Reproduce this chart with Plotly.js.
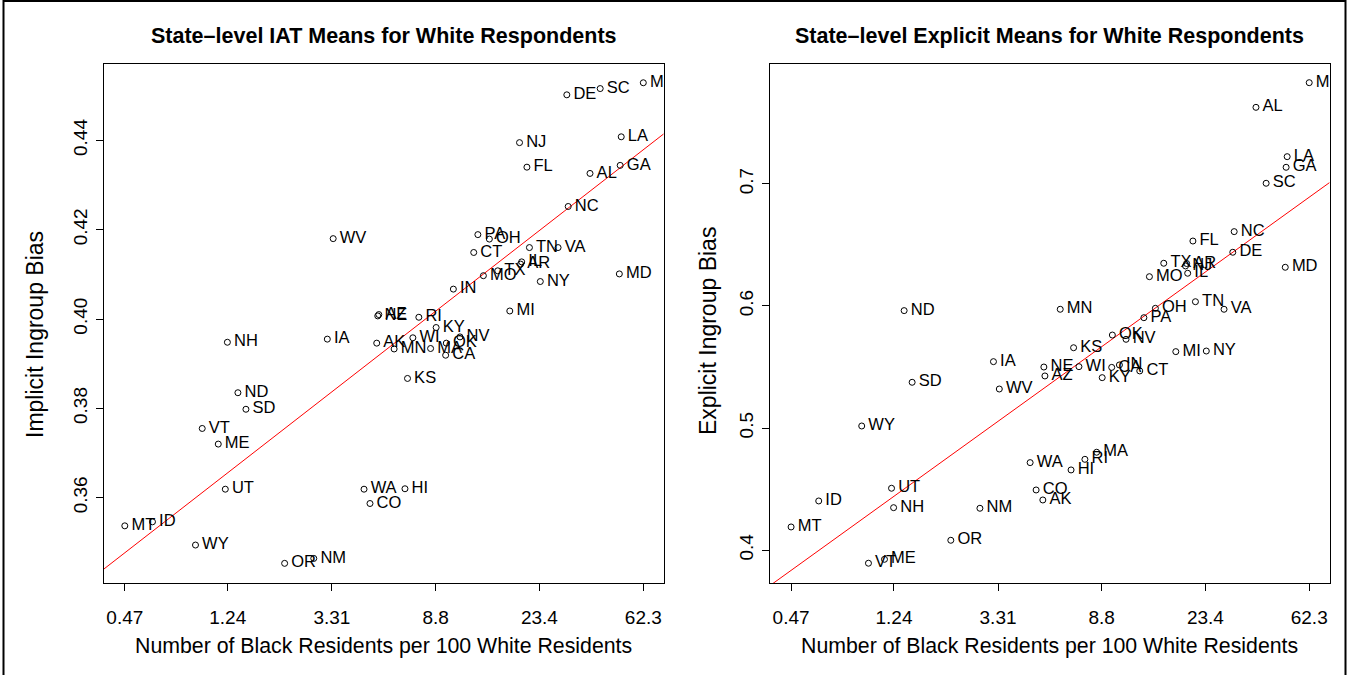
<!DOCTYPE html>
<html>
<head>
<meta charset="utf-8">
<script src="https://cdn.plot.ly/plotly-3.0.1.min.js"></script>
<style>
  html, body { margin: 0; padding: 0; background: #ffffff; }
  #chart { width: 1350px; height: 675px; }
</style>
</head>
<body>
<div id="chart"></div>
<script>
// ---- Data ----
const states = ['AL','AK','AZ','AR','CA','CO','CT','DE','FL','GA','HI','ID','IL','IN','IA','KS','KY','LA','ME','MD','MA','MI','MN','MS','MO','MT','NE','NV','NH','NJ','NM','NY','NC','ND','OH','OK','OR','PA','RI','SC','SD','TN','TX','UT','VT','VA','WA','WV','WI','WY'];

// Number of Black residents per 100 White residents
const blackPer100White = [37.7,5.05,5.15,19.6,9.67,4.74,12.6,30.3,20.8,50.1,6.59,0.61,19.8,10.4,3.17,6.75,8.84,50.6,1.134,49.7,8.39,17.7,5.95,62.3,13.8,0.47,5.10,11.07,1.236,19.4,2.79,23.6,30.7,1.365,14.6,9.73,2.12,13.1,7.51,41.5,1.472,21.3,15.8,1.212,0.975,27.9,4.48,3.35,7.10,0.915];

// State-level IAT means (implicit ingroup bias)
const iatMeans = [0.4326,0.3946,0.4010,0.4123,0.3919,0.3587,0.4149,0.4502,0.4340,0.4344,0.3620,0.3546,0.4128,0.4067,0.3955,0.3867,0.3981,0.4408,0.3720,0.4101,0.3934,0.4018,0.3933,0.4529,0.4097,0.3537,0.4007,0.3960,0.3948,0.4395,0.3464,0.4084,0.4252,0.3835,0.4179,0.3946,0.3453,0.4189,0.4004,0.4516,0.3798,0.4160,0.4108,0.3619,0.3755,0.4160,0.3619,0.4180,0.3958,0.3494];

// State-level explicit means (explicit ingroup bias)
const explicitMeans = [0.7627,0.4411,0.5427,0.6348,0.5497,0.4493,0.5468,0.6440,0.6532,0.7136,0.4657,0.4403,0.6268,0.5517,0.5544,0.5658,0.5413,0.7223,0.3925,0.6317,0.4802,0.5626,0.5973,0.7829,0.6240,0.4190,0.5500,0.5727,0.4348,0.6328,0.4343,0.5631,0.6609,0.5962,0.5981,0.5762,0.4081,0.5904,0.4744,0.7005,0.5375,0.6035,0.6350,0.4507,0.3893,0.5973,0.4717,0.5320,0.5503,0.5017];

// Axis tick labels
const xTickVals = [0.47, 1.24, 3.31, 8.8, 23.4, 62.3];
const xTickText = ['0.47', '1.24', '3.31', '8.8', '23.4', '62.3'];
const yTickValsIAT = [0.36, 0.38, 0.40, 0.42, 0.44];
const yTickTextIAT = ['0.36', '0.38', '0.40', '0.42', '0.44'];
const yTickValsExp = [0.4, 0.5, 0.6, 0.7];
const yTickTextExp = ['0.4', '0.5', '0.6', '0.7'];

const titleIAT = 'State\u2013level IAT Means for White Respondents';
const titleExp = 'State\u2013level Explicit Means for White Respondents';
const xTitle = 'Number of Black Residents per 100 White Residents';
const yTitleIAT = 'Implicit Ingroup Bias';
const yTitleExp = 'Explicit Ingroup Bias';

// ---- Layout geometry ----
const W = 1350, H = 675;
const FONT = 'Liberation Sans, Arial, Helvetica, sans-serif';
const xRangeLog = [-0.4143, 1.878];
const yRangeIAT = [0.3409, 0.4571];
const yRangeExp = [0.3731, 0.7982];

// Least-squares fit of y on log(x)
function lsFit(xs, ys) {
  const lx = xs.map(v => Math.log10(v));
  const n = lx.length;
  const mx = lx.reduce((a, b) => a + b, 0) / n;
  const my = ys.reduce((a, b) => a + b, 0) / n;
  let sxy = 0, sxx = 0;
  for (let i = 0; i < n; i++) {
    sxy += (lx[i] - mx) * (ys[i] - my);
    sxx += (lx[i] - mx) * (lx[i] - mx);
  }
  const b = sxy / sxx;
  return { a: my - b * mx, b: b };
}
function fitLine(xs, ys, xa, ya) {
  const f = lsFit(xs, ys);
  const ex = xRangeLog.map(v => Math.pow(10, v));
  return {
    x: ex, y: xRangeLog.map(v => f.a + f.b * v),
    type: 'scatter', mode: 'lines', xaxis: xa, yaxis: ya,
    line: { color: '#ff0000', width: 1 }, hoverinfo: 'skip', showlegend: false
  };
}
// labels: an invisible wider marker gives the label its offset from the point
function labelTrace(ys, xa, ya) {
  return {
    x: blackPer100White, y: ys, text: states,
    type: 'scatter', mode: 'markers+text', xaxis: xa, yaxis: ya,
    textposition: 'middle right',
    textfont: { family: FONT, size: 16.5, color: '#000000' },
    marker: { size: 9, color: 'rgba(0,0,0,0)', line: { width: 0 } },
    cliponaxis: true, showlegend: false, hoverinfo: 'skip'
  };
}
function pointTrace(ys, xa, ya) {
  return {
    x: blackPer100White, y: ys,
    type: 'scatter', mode: 'markers', xaxis: xa, yaxis: ya,
    marker: { symbol: 'circle-open', size: 6, color: '#000000', line: { width: 1, color: '#000000' } },
    cliponaxis: true, showlegend: false
  };
}

const data = [
  fitLine(blackPer100White, iatMeans, 'x', 'y'),
  labelTrace(iatMeans, 'x', 'y'),
  pointTrace(iatMeans, 'x', 'y'),
  fitLine(blackPer100White, explicitMeans, 'x2', 'y2'),
  labelTrace(explicitMeans, 'x2', 'y2'),
  pointTrace(explicitMeans, 'x2', 'y2')
];

function xAxis(domain, anchor) {
  return {
    type: 'log', range: xRangeLog, domain: domain, anchor: anchor,
    tickmode: 'array', tickvals: xTickVals, ticktext: xTickText,
    ticks: 'outside', ticklen: 7, tickwidth: 1, tickcolor: '#000000',
    ticklabelstandoff: 10,
    tickfont: { family: FONT, size: 19, color: '#000000' },
    showline: true, mirror: true, linecolor: '#000000', linewidth: 1,
    showgrid: false, zeroline: false
  };
}
function yAxis(range, vals, txt, anchor) {
  return {
    range: range, domain: [1 - 583 / H, 1 - 64 / H], anchor: anchor,
    tickmode: 'array', tickvals: vals, ticktext: txt, tickangle: -90,
    ticks: 'outside', ticklen: 7, tickwidth: 1, tickcolor: '#000000',
    ticklabelstandoff: 1,
    tickfont: { family: FONT, size: 19, color: '#000000' },
    showline: true, mirror: true, linecolor: '#000000', linewidth: 1,
    showgrid: false, zeroline: false
  };
}

const ann = (text, xpx, ypx, opts) => Object.assign({
  text: text, xref: 'paper', yref: 'paper', x: xpx / W, y: 1 - ypx / H,
  xanchor: 'center', yanchor: 'middle', showarrow: false,
  font: { family: FONT, size: 21.3, color: '#000000' }
}, opts || {});

const layout = {
  width: W, height: H,
  margin: { l: 0, r: 0, t: 0, b: 0, pad: 0 },
  paper_bgcolor: '#ffffff', plot_bgcolor: '#ffffff',
  showlegend: false,
  xaxis: xAxis([103.7 / W, 663.7 / W], 'y'),
  yaxis: yAxis(yRangeIAT, yTickValsIAT, yTickTextIAT, 'x'),
  xaxis2: xAxis([770 / W, 1329.6 / W], 'y2'),
  yaxis2: yAxis(yRangeExp, yTickValsExp, yTickTextExp, 'x2'),
  annotations: [
    ann('<b>' + titleIAT + '</b>', 383.7, 36, { font: { family: FONT, size: 21.5, color: '#000000' } }),
    ann('<b>' + titleExp + '</b>', 1049.8, 36, { font: { family: FONT, size: 21.5, color: '#000000' } }),
    ann(xTitle, 383.7, 646),
    ann(xTitle, 1049.8, 646),
    ann(yTitleIAT, 35, 335, { textangle: -90, font: { family: FONT, size: 23, color: '#000000' } }),
    ann(yTitleExp, 708, 331, { textangle: -90, font: { family: FONT, size: 23, color: '#000000' } })
  ],
  shapes: [
    { type: 'rect', xref: 'paper', yref: 'paper', x0: 3.5 / W, x1: 1345.5 / W, y0: -0.05, y1: 1 - 1 / H,
      line: { color: '#000000', width: 2 }, fillcolor: 'rgba(0,0,0,0)' }
  ]
};

Plotly.newPlot('chart', data, layout, { staticPlot: true, displayModeBar: false });
</script>
</body>
</html>
